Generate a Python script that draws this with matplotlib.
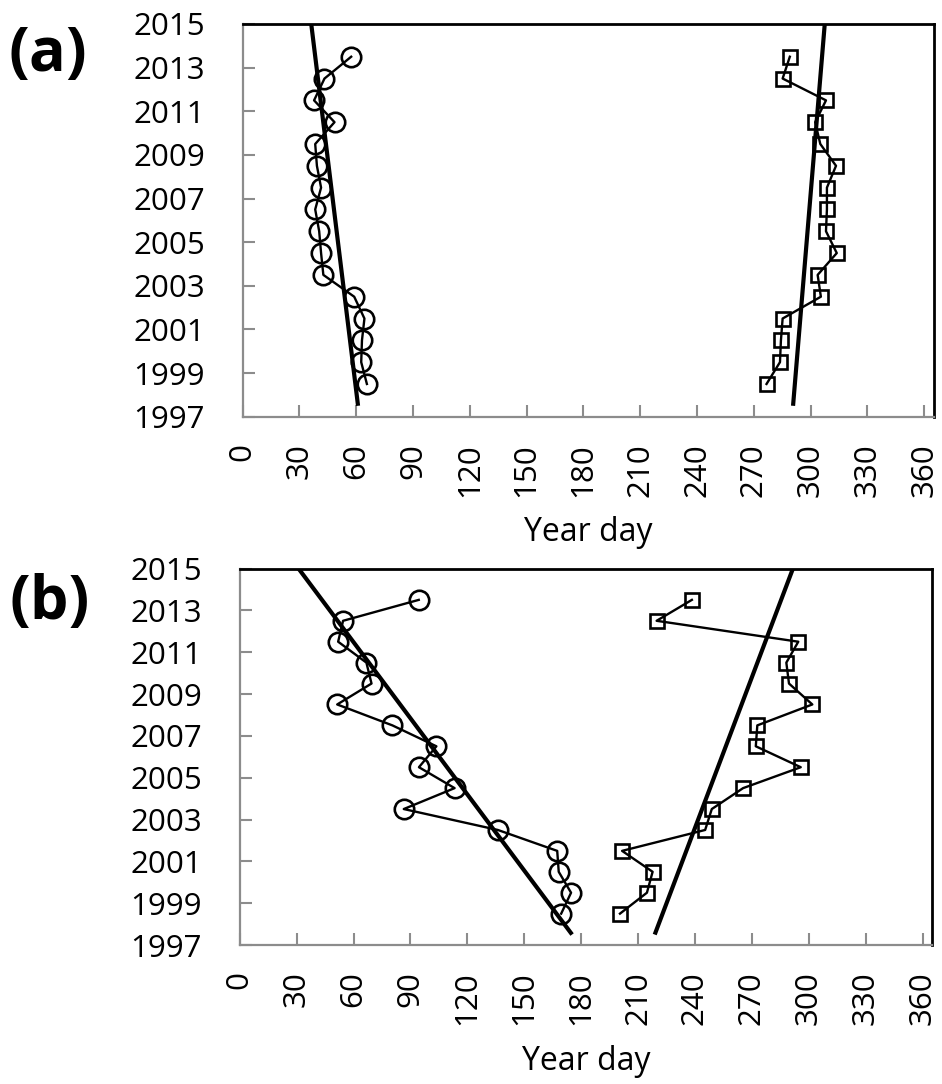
import numpy as np
import matplotlib
matplotlib.use("Agg")
import matplotlib.pyplot as plt

# Observation years (mid-year positions)
years = [2013.5, 2012.5, 2011.5, 2010.5, 2009.5, 2008.5, 2007.5, 2006.5,
         2005.5, 2004.5, 2003.5, 2002.5, 2001.5, 2000.5, 1999.5, 1998.5]

# Panel (a): start and end year day
a_start = [57.3, 43.2, 37.7, 48.5, 38.3, 39.2, 41.4, 38.3,
           40.4, 41.4, 42.6, 58.9, 64.3, 63.0, 62.6, 65.6]
a_end = [289.0, 285.2, 308.1, 302.4, 305.1, 313.4, 308.6, 308.6,
         308.1, 313.8, 303.7, 305.4, 285.2, 284.3, 283.8, 276.7]

# Panel (b): start and end year day
b_start = [94.4, 54.5, 51.9, 66.8, 69.5, 51.4, 80.5, 103.7,
           94.5, 113.3, 86.5, 136.1, 167.4, 168.2, 174.7, 169.5]
b_end = [238.4, 219.8, 294.5, 288.2, 289.6, 301.9, 272.9, 272.1,
         295.8, 265.4, 248.9, 245.4, 201.6, 217.7, 214.7, 200.5]

x_ticks = list(range(0, 361, 30))
y_ticks = list(range(1997, 2016, 2))
panel_labels = ["(a)", "(b)"]
x_label = "Year day"

plt.rcParams["font.family"] = ["Open Sans", "DejaVu Sans"]

fig = plt.figure(figsize=(9.42, 10.84), dpi=100)

axes_boxes = [
    [242.7 / 942, 1 - 416.7 / 1084, (933.7 - 242.7) / 942, (416.7 - 24) / 1084],
    [239.7 / 942, 1 - 945 / 1084, (932 - 239.7) / 942, (945 - 568.5) / 1084],
]
label_pos = [(48 / 942, 1 - 55 / 1084), (50 / 942, 1 - 604 / 1084)]

gray = "#8c8c8c"
yrs = np.array(years)
trend_years = np.array([1997.5, 2015.0])

for box, (start, end), lab, lpos in zip(
        axes_boxes, [(a_start, a_end), (b_start, b_end)], panel_labels, label_pos):
    ax = fig.add_axes(box)
    for series, marker, ms in [(start, "o", 14), (end, "s", 10.5)]:
        vals = np.array(series)
        ax.plot(vals, yrs, color="black", lw=1.7, marker=marker, ms=ms,
                mfc="none", mec="black", mew=1.9, zorder=3)
        slope, intercept = np.polyfit(yrs, vals, 1)
        ax.plot(slope * trend_years + intercept, trend_years, color="black",
                lw=3.0, solid_capstyle="butt", zorder=4)

    ax.set_xlim(0, 365)
    ax.set_ylim(1997, 2015)
    ax.set_xticks(x_ticks)
    ax.set_yticks(y_ticks)
    ax.set_xticklabels([str(v) for v in x_ticks], rotation=90, fontsize=22.5)
    ax.set_yticklabels([str(v) for v in y_ticks], fontsize=22.5)
    ax.tick_params(axis="x", direction="in", length=8.5, width=1.5,
                   color=gray, pad=19)
    ax.tick_params(axis="y", direction="in", length=8.5, width=1.5,
                   color=gray, pad=27)
    for side in ("left", "bottom"):
        ax.spines[side].set_color(gray)
        ax.spines[side].set_linewidth(1.6)
    for side in ("top", "right"):
        ax.spines[side].set_color("black")
        ax.spines[side].set_linewidth(2.0)
    ax.set_xlabel(x_label, fontsize=23, labelpad=14)
    fig.text(lpos[0], lpos[1], lab, fontsize=44, fontweight="bold",
             ha="center", va="center")

fig.savefig("out.png", dpi=100)
